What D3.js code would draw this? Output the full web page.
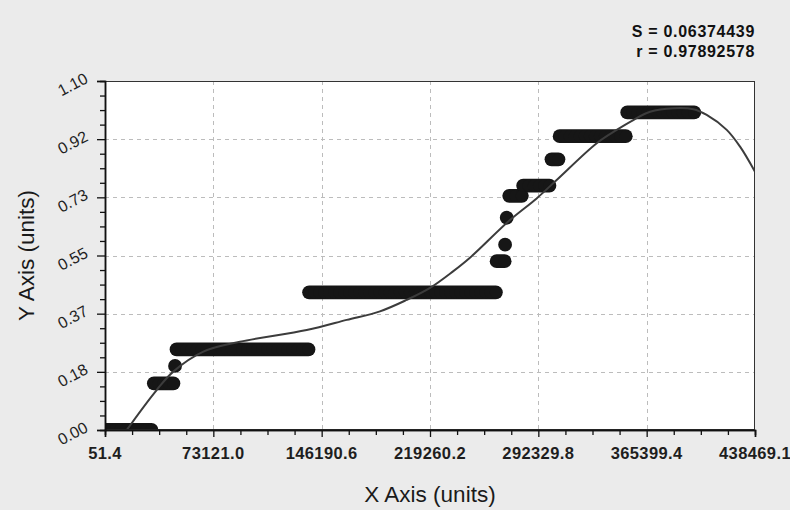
<!DOCTYPE html>
<html><head><meta charset="utf-8">
<script src="https://cdn.jsdelivr.net/npm/d3@7"></script>
<style>
html,body{margin:0;padding:0;background:#ebebeb;}
svg{display:block;font-family:"Liberation Sans",Arial,sans-serif;}
</style></head>
<body>
<script>
// ---- data ----
const xTickValues = [51.4, 73121.0, 146190.6, 219260.2, 292329.8, 365399.4, 438469.1];
const xTickLabels = ["51.4", "73121.0", "146190.6", "219260.2", "292329.8", "365399.4", "438469.1"];
const yTickValues = [0, 0.18333, 0.36667, 0.55, 0.73333, 0.91667, 1.1];
const yTickLabels = ["0.00", "0.18", "0.37", "0.55", "0.73", "0.92", "1.10"];
const statLines = ["S = 0.06374439", "r = 0.97892578"];
const xTitle = "X Axis (units)";
const yTitle = "Y Axis (units)";

// observed points grouped by level: [y, [x values]]
const level0 = [0.0, [51, 3500, 7000, 10500, 14000, 17500, 21000, 24500, 28000, 31400]];
const level1 = [0.147, [33000, 36300, 39600, 42900, 46200]];
const level2 = [0.202, [47300]];
const level3 = [0.254, [48300, 51700, 55100, 58500, 61900, 65300, 68700, 72100, 75500, 78900, 82300, 85700, 89100, 92500, 95900, 99300, 102700, 106100, 109500, 112900, 116300, 119700, 123100, 126500, 129900, 133300, 137300]];
const level4 = [0.434, [137700, 141100, 144500, 147900, 151300, 154700, 158100, 161500, 164900, 168300, 171700, 175100, 178500, 181900, 185300, 188700, 192100, 195500, 198900, 202300, 205700, 209100, 212500, 215900, 219300, 222700, 226100, 229500, 232900, 236300, 239700, 243100, 246500, 249900, 253300, 256700, 260100, 263700]];
const level5 = [0.532, [264200, 269600]];
const level6 = [0.584, [269900]];
const level7 = [0.669, [271000]];
const level8 = [0.738, [272700, 276900, 281200]];
const level9 = [0.770, [282100, 285700, 289300, 292800, 296300, 299800]];
const level10 = [0.853, [301200, 305900]];
const level11 = [0.926, [306700, 310100, 313500, 316900, 320300, 323700, 327100, 330500, 333900, 337300, 340700, 344100, 347500, 351300]];
const level12 = [1.001, [352300, 355700, 359100, 362500, 365900, 369300, 372700, 376100, 379500, 382900, 386300, 389700, 393100, 397500]];
const levels = [level0, level1, level2, level3, level4, level5, level6, level7, level8, level9, level10, level11, level12];

// fitted curve
const curveX = [8820, 14700, 34900, 46100, 66400, 91100, 136100, 163100, 185500, 203500, 219300, 234800, 246200, 273200, 291200, 304700, 331700, 345200, 356400, 367700, 383400, 396900, 405900, 419400, 428400, 438469.1];
const curveY = [-0.04, 0.0, 0.126, 0.184, 0.247, 0.278, 0.315, 0.347, 0.374, 0.41, 0.448, 0.50, 0.543, 0.662, 0.730, 0.788, 0.904, 0.946, 0.977, 1.003, 1.014, 1.011, 0.993, 0.946, 0.893, 0.814];

// ---- layout ----
const W = 790, H = 510;
const L = 105, R = 755, T = 81, B = 430;
const MR = 6.9;

const svg = d3.select("body").append("svg").attr("width", W).attr("height", H);
svg.append("rect").attr("width", W).attr("height", H).attr("fill", "#ebebeb");

const x = d3.scaleLinear().domain([xTickValues[0], xTickValues[xTickValues.length - 1]]).range([L, R]);
const y = d3.scaleLinear().domain([0, 1.1]).range([B, T]);

svg.append("rect").attr("x", L).attr("y", T).attr("width", R - L).attr("height", B - T).attr("fill", "#ffffff");

svg.append("clipPath").attr("id", "clip").append("rect")
  .attr("x", L).attr("y", T).attr("width", R - L).attr("height", B - T);

// grid
const grid = svg.append("g").attr("stroke", "#bcbcbc").attr("stroke-width", 1).attr("stroke-dasharray", "4,4");
xTickValues.slice(1, -1).forEach(v => {
  grid.append("line").attr("x1", Math.round(x(v)) + 0.5).attr("x2", Math.round(x(v)) + 0.5).attr("y1", T).attr("y2", B);
});
yTickValues.slice(1, -1).forEach(v => {
  grid.append("line").attr("y1", Math.round(y(v)) + 0.5).attr("y2", Math.round(y(v)) + 0.5).attr("x1", L).attr("x2", R);
});

// points (dense runs of overlapping markers)
const pts = [];
levels.forEach(([yv, xs]) => xs.forEach(xv => pts.push([xv, yv])));
const pg = svg.append("g").attr("clip-path", "url(#clip)");
// overlapping markers of one level merge into a solid rounded band
pg.selectAll("path.run").data(levels.filter(l => l[1].length > 1)).join("path").attr("class", "run")
  .attr("d", l => d3.line()(l[1].map(xv => [x(xv), y(l[0])])))
  .attr("fill", "none").attr("stroke", "#161616").attr("stroke-width", MR * 2).attr("stroke-linecap", "round");
pg.selectAll("circle").data(pts).join("circle")
  .attr("cx", d => x(d[0])).attr("cy", d => y(d[1]))
  .attr("r", MR - 0.8)
  .attr("fill", "#161616");
// isolated markers at full size
pg.selectAll("circle.single").data(levels.filter(l => l[1].length === 1)).join("circle").attr("class", "single")
  .attr("cx", l => x(l[1][0])).attr("cy", l => y(l[0]))
  .attr("r", MR).attr("fill", "#161616");

// curve
const cdata = curveX.map((v, i) => [v, curveY[i]]);
pg.append("path").datum(cdata)
  .attr("d", d3.line().x(d => x(d[0])).y(d => y(d[1])).curve(d3.curveCatmullRom))
  .attr("fill", "none").attr("stroke", "#3c3c3c").attr("stroke-width", 2);

// border
svg.append("rect").attr("x", L + 0.5).attr("y", T + 0.5).attr("width", R - L - 1).attr("height", B - T - 1)
  .attr("fill", "none").attr("stroke", "#333").attr("stroke-width", 1);

// axes
const minorX = [];
for (let i = 0; i < xTickValues.length - 1; i++) {
  const a = xTickValues[i], b = xTickValues[i + 1];
  [1, 2, 3].forEach(k => minorX.push(a + (b - a) * k / 4));
}
const minorY = [];
for (let i = 0; i < yTickValues.length - 1; i++) {
  const a = yTickValues[i], b = yTickValues[i + 1];
  [1, 2, 3].forEach(k => minorY.push(a + (b - a) * k / 4));
}

const xAxisG = svg.append("g").attr("transform", `translate(0,${B})`);
xAxisG.call(d3.axisBottom(x).tickValues(xTickValues).tickSize(7).tickFormat(""));
xAxisG.append("g").call(d3.axisBottom(x).tickValues(minorX).tickSize(5).tickFormat(""));
xAxisG.selectAll("path.domain").attr("stroke", "#111").attr("stroke-width", 1.5);
xAxisG.selectAll("line").attr("stroke", "#111").attr("stroke-width", 1.3);
xAxisG.selectAll("text.lbl").data(xTickValues).join("text").attr("class", "lbl")
  .attr("x", d => x(d)).attr("y", 29)
  .attr("text-anchor", "middle").attr("font-size", 16.5).attr("font-weight", "bold")
  .attr("letter-spacing", 0.4).attr("fill", "#1e1e1e")
  .text((d, i) => xTickLabels[i]);

const yAxisG = svg.append("g").attr("transform", `translate(${L},0)`);
yAxisG.call(d3.axisLeft(y).tickValues(yTickValues).tickSize(8).tickFormat(""));
yAxisG.append("g").call(d3.axisLeft(y).tickValues(minorY).tickSize(5).tickFormat(""));
yAxisG.selectAll("path.domain").attr("stroke", "#111").attr("stroke-width", 1.5);
yAxisG.selectAll("line").attr("stroke", "#111").attr("stroke-width", 1.3);
yAxisG.selectAll("text.lbl").data(yTickValues).join("text").attr("class", "lbl")
  .attr("transform", d => `translate(-16,${y(d) + 1}) rotate(-28)`)
  .attr("text-anchor", "end").attr("font-size", 16).attr("fill", "#1e1e1e")
  .text((d, i) => yTickLabels[i]);

// titles
svg.append("text").attr("x", (L + R) / 2).attr("y", 502).attr("text-anchor", "middle")
  .attr("font-size", 22.5).attr("fill", "#1a1a1a").text(xTitle);
svg.append("text").attr("transform", `translate(34,${(T + B) / 2}) rotate(-90)`).attr("text-anchor", "middle")
  .attr("font-size", 22.5).attr("fill", "#1a1a1a").text(yTitle);

// stats
svg.selectAll("text.stat").data(statLines).join("text").attr("class", "stat")
  .attr("x", R).attr("y", (d, i) => 37 + i * 20).attr("text-anchor", "end")
  .attr("font-size", 16).attr("font-weight", "bold").attr("letter-spacing", 0.7).attr("fill", "#111")
  .text(d => d);
</script>
</body></html>
